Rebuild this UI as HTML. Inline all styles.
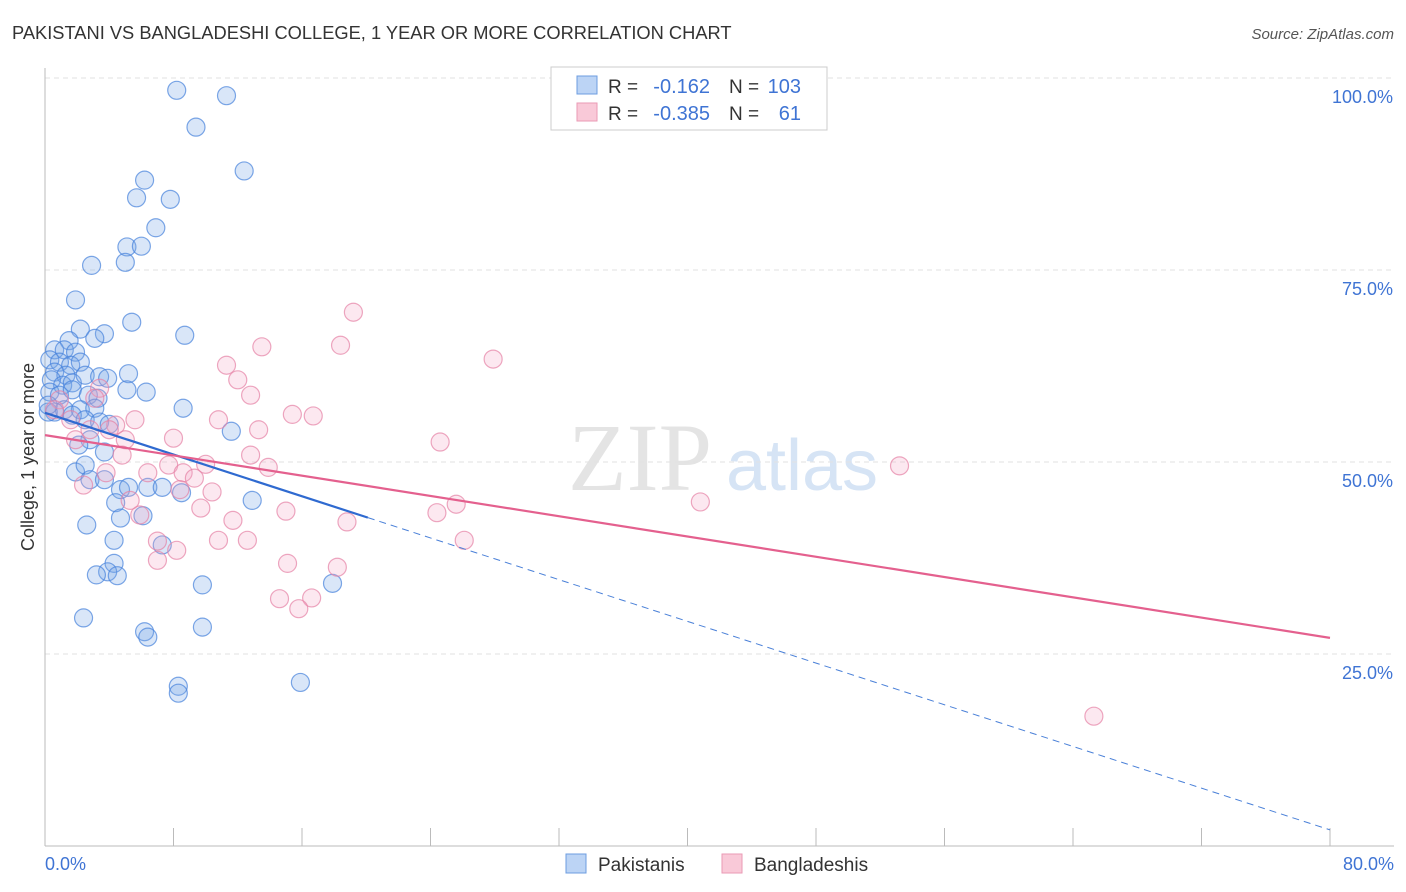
<!DOCTYPE html>
<html><head><meta charset="utf-8">
<style>
body{margin:0;background:#fff;font-family:"Liberation Sans",sans-serif;}
svg{display:block}
</style></head>
<body>
<svg id="chart" width="1406" height="892">
<text x="12" y="39" font-size="18.3" fill="#333">PAKISTANI VS BANGLADESHI COLLEGE, 1 YEAR OR MORE CORRELATION CHART</text>
<text x="1394" y="39" font-size="15" fill="#555" font-style="italic" text-anchor="end">Source: ZipAtlas.com</text>
<text x="640" y="490" font-size="96" fill="#e4e4e4" font-family="Liberation Serif,serif" text-anchor="middle">ZIP</text>
<text x="802" y="490" font-size="72" fill="#d6e4f5" text-anchor="middle">atlas</text>
<g id="grid"></g>
<g id="axes"></g>
<g id="points"></g>
<g id="trends"></g>
<text transform="translate(34,457) rotate(-90)" font-size="18" fill="#333" text-anchor="middle">College, 1 year or more</text>
<g>
<rect x="551" y="67" width="276" height="63" fill="#fff" stroke="#ccc"/>
<rect x="577" y="76" width="20" height="18" fill="#bcd4f5" stroke="#6d9de0"/>
<rect x="577" y="103" width="20" height="18" fill="#f9c9d8" stroke="#ea9ab5"/>
<text x="608" y="93" font-size="19" fill="#333">R =</text>
<text x="710" y="93" font-size="20" fill="#3f74d4" text-anchor="end">-0.162</text>
<text x="729" y="93" font-size="19" fill="#333">N =</text>
<text x="801" y="93" font-size="20" fill="#3f74d4" text-anchor="end">103</text>
<text x="608" y="120" font-size="19" fill="#333">R =</text>
<text x="710" y="120" font-size="20" fill="#3f74d4" text-anchor="end">-0.385</text>
<text x="729" y="120" font-size="19" fill="#333">N =</text>
<text x="801" y="120" font-size="20" fill="#3f74d4" text-anchor="end">61</text>
</g>
<g>
<rect x="566" y="854" width="20" height="19" fill="#bcd4f5" stroke="#6d9de0"/>
<text x="598" y="871" font-size="19" fill="#333">Pakistanis</text>
<rect x="722" y="854" width="20" height="19" fill="#f9c9d8" stroke="#ea9ab5"/>
<text x="754" y="871" font-size="19" fill="#333">Bangladeshis</text>
</g>
</svg>
<script>
const yTicks=[25,50,75,100];
const yTickLabels=["25.0%","50.0%","75.0%","100.0%"];
const xTickLabels=["0.0%","80.0%"];
const pakX=[8.2,11.3,9.4,12.4,6.2,5.7,7.8,6.9,5.1,6.0,5.0,2.9,1.9,5.4,2.2,3.7,8.7,1.5,3.1,0.6,1.2,1.9,0.3,0.9,1.6,2.2,0.6,1.3,0.4,1.1,1.7,2.5,3.4,3.9,5.2,6.3,5.1,0.3,0.9,1.7,2.7,3.3,1.2,2.2,3.1,0.6,1.7,2.5,3.4,4.0,2.8,2.1,3.7,8.6,11.6,1.9,2.5,2.8,3.7,4.7,5.2,6.4,7.3,8.5,12.9,4.4,6.1,4.7,4.3,7.3,2.6,4.3,3.9,4.5,3.2,9.8,17.9,2.4,6.2,6.4,9.8,15.9,8.3,8.3,0.2,0.2];
const pakY=[98.4,97.7,93.6,87.9,86.7,84.4,84.2,80.5,78.0,78.1,76.0,75.6,71.1,68.2,67.3,66.7,66.5,65.8,66.1,64.6,64.6,64.3,63.3,63.0,62.6,63.0,61.7,61.3,60.7,60.0,60.3,61.3,61.1,60.9,61.5,59.1,59.4,59.1,58.7,59.4,58.7,58.3,56.8,56.8,57.0,56.5,56.1,55.5,55.2,54.9,52.9,52.2,51.3,57.0,54.0,48.7,49.6,47.7,47.7,46.4,46.7,46.7,46.7,46.0,45.0,44.7,43.0,42.7,39.8,39.2,41.8,36.8,35.7,35.2,35.3,34.0,34.2,29.7,27.9,27.2,28.5,21.3,20.8,19.9,56.5,57.4];
const banX=[19.2,18.4,13.5,27.9,11.3,12.0,12.8,3.4,3.1,10.8,13.3,15.4,16.7,1.6,4.4,5.0,24.6,53.2,13.9,7.7,10.0,6.4,8.6,9.3,3.8,4.8,10.4,25.6,24.4,8.0,40.8,5.9,9.7,11.7,15.0,18.8,10.8,12.6,7.0,26.1,8.2,7.0,15.1,18.2,14.6,16.6,15.8,65.3,0.9,0.6,4.0,2.8,5.6,1.9,12.8,8.4,2.4,5.3];
const banY=[69.5,65.2,65.0,63.4,62.6,60.7,58.7,59.6,58.3,55.5,54.2,56.2,56.0,55.5,54.8,52.9,52.6,49.5,49.3,49.6,49.7,48.6,48.6,47.9,48.6,50.9,46.1,44.5,43.4,53.1,44.8,43.1,44.0,42.4,43.6,42.2,39.8,39.8,39.7,39.8,38.5,37.2,36.8,36.3,32.2,32.3,30.9,16.9,58.1,56.8,54.2,54.2,55.5,52.9,50.9,46.4,47.0,45.0];
const pakTrend=[56.4,2.1];const pakSolidEnd=20.1;
const banTrend=[53.5,27.1];

const X0=45,X1=1330,Y0=846,Y100=78;
const sx=v=>X0+(X1-X0)*v/80;
const sy=v=>Y0-(Y0-Y100)*v/100;
const NS="http://www.w3.org/2000/svg";
function mk(tag,attrs,parent){const e=document.createElementNS(NS,tag);for(const k in attrs)e.setAttribute(k,attrs[k]);parent.appendChild(e);return e;}
const grid=document.getElementById('grid'),axes=document.getElementById('axes'),pts=document.getElementById('points'),tr=document.getElementById('trends');
yTicks.forEach((t,i)=>{
 const l=mk('line',{x1:X0,x2:1394,y1:sy(t),y2:sy(t),stroke:'#e2e2e2','stroke-dasharray':'5,4'},grid);
 
 
 const tx=mk('text',{x:1393,y:sy(t)+25,'font-size':18,fill:'#3f74d4','text-anchor':'end'},axes);
 tx.textContent=yTickLabels[i];
 
 
});
let a=mk('line',{x1:X0,x2:X0,y1:68,y2:Y0,stroke:'#bbb'},axes);


a=mk('line',{x1:X0,x2:1394,y1:Y0,y2:Y0,stroke:'#bbb'},axes);


for(let i=0;i<=10;i++){const t=mk('line',{x1:sx(i*8),x2:sx(i*8),y1:828,y2:Y0,stroke:'#bbb'},axes);
 
 }
[[0,'start',45],[80,'end',1394]].forEach((d,i)=>{const t=mk('text',{x:d[2],y:870,'font-size':18,fill:'#3f74d4','text-anchor':d[1]},axes);t.textContent=xTickLabels[i];
 
 });
pakX.forEach((x,i)=>{const c=mk('circle',{cx:sx(x),cy:sy(pakY[i]),r:9,fill:'rgba(120,165,230,0.28)',stroke:'rgba(70,130,220,0.7)','stroke-width':1.2},pts);
 
 });
banX.forEach((x,i)=>{const c=mk('circle',{cx:sx(x),cy:sy(banY[i]),r:9,fill:'rgba(245,165,195,0.25)',stroke:'rgba(230,130,165,0.7)','stroke-width':1.2},pts);
 
 });
const py=x=>pakTrend[0]+(pakTrend[1]-pakTrend[0])*x/80;
let l=mk('line',{x1:sx(0),y1:sy(py(0)),x2:sx(pakSolidEnd),y2:sy(py(pakSolidEnd)),stroke:'#2f6ad0','stroke-width':2.2},tr);


l=mk('line',{x1:sx(pakSolidEnd),y1:sy(py(pakSolidEnd)),x2:sx(80),y2:sy(py(80)),stroke:'#4a80d8','stroke-width':1,'stroke-dasharray':'7,5'},tr);


l=mk('line',{x1:sx(0),y1:sy(banTrend[0]),x2:sx(80),y2:sy(banTrend[1]),stroke:'#e4608e','stroke-width':2.2},tr);


</script>
</body></html>
